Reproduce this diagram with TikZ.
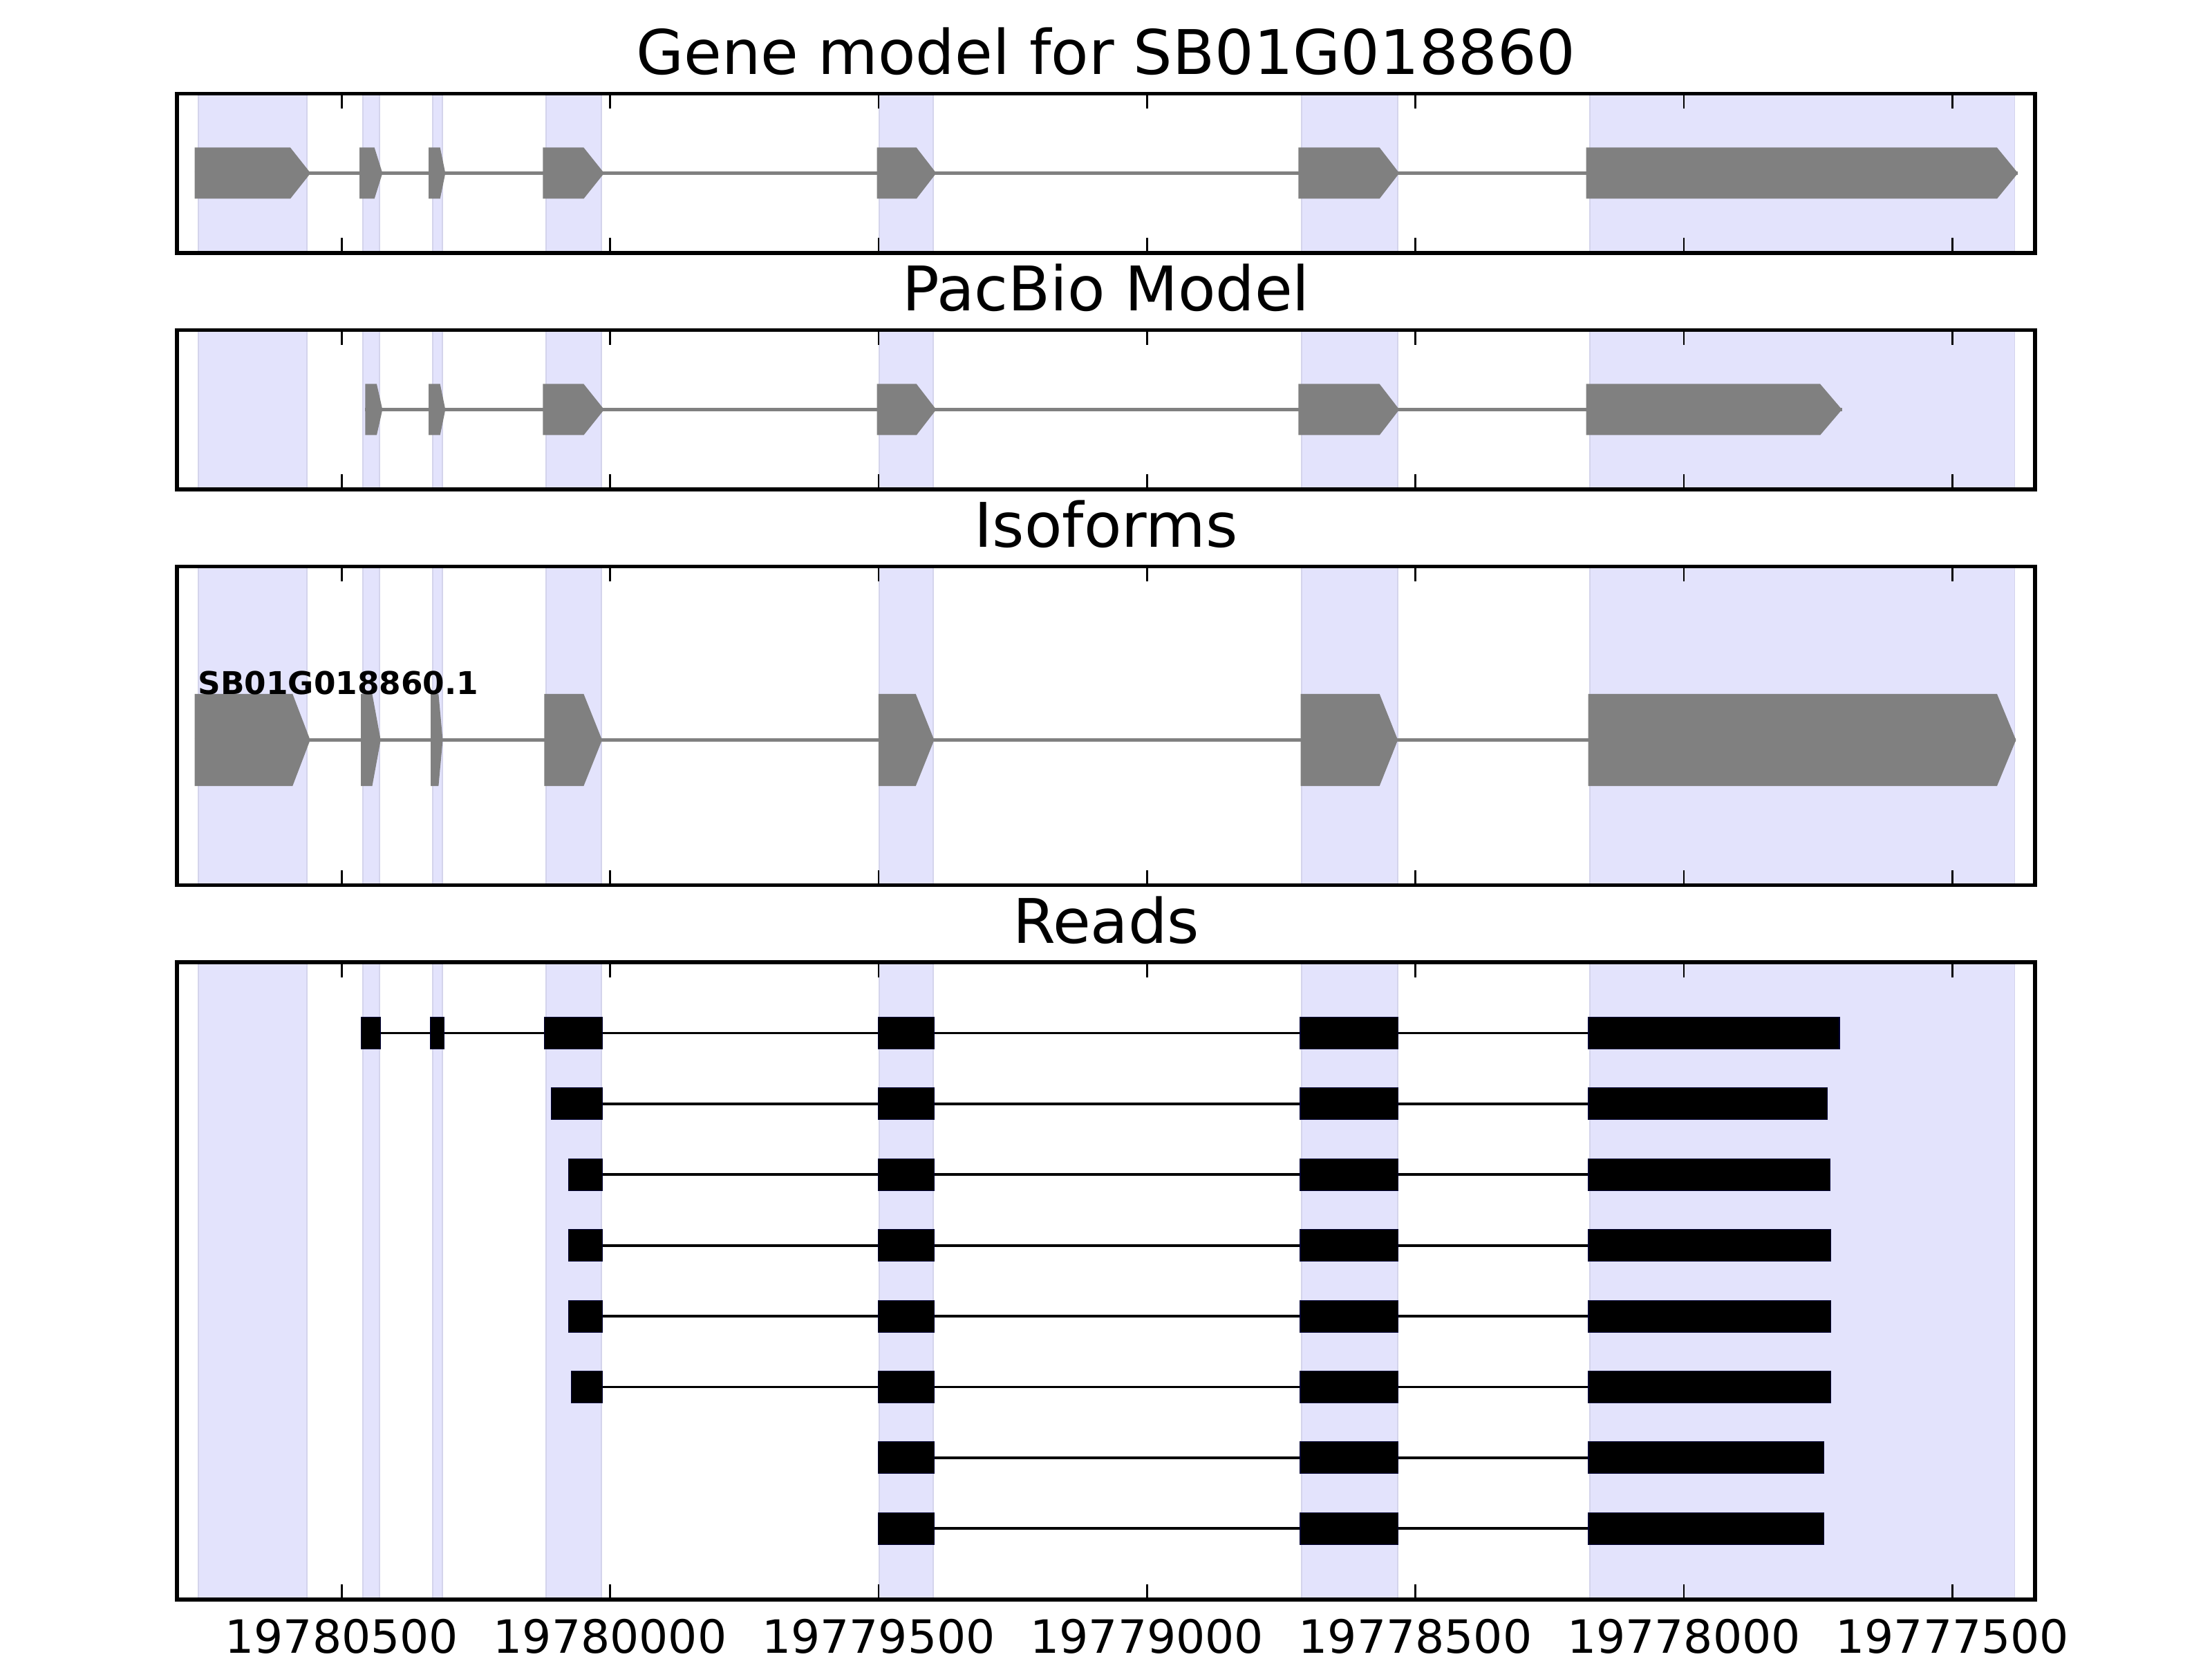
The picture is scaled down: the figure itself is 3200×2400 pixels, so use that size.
\documentclass[tikz,border=0pt]{standalone}
\usepackage{fontspec}
\setmainfont{DejaVu Sans}
\definecolor{bandblue}{RGB}{227,227,252}
\definecolor{bandedge}{RGB}{212,212,236}
\definecolor{exongray}{RGB}{128,128,128}
\tikzset{
  band/.style={fill=bandblue, draw=bandedge, line width=0.3pt},
  exon/.style={fill=exongray},
  intron/.style={draw=exongray, line width=1pt},
  readexon/.style={fill=black, draw=black!80!blue, line width=0.2pt},
  readline/.style={draw=black, line width=0.7pt},
  frame/.style={line width=1pt},
  tickmark/.style={line width=0.5pt},
  paneltitle/.style={font=\fontsize{16.1}{19}\selectfont, anchor=base, inner sep=0pt},
  ticklabel/.style={font=\fontsize{12}{14}\selectfont, anchor=north, inner sep=0pt},
  isolabel/.style={font=\fontsize{8.2}{10}\selectfont\bfseries, anchor=base west, inner sep=0pt}
}

\begin{document}
\begin{tikzpicture}[x=0.0025in, y=-0.0025in]
  \useasboundingbox (0,0) rectangle (3200,2400);

  % exon bands in every panel
  \foreach \top/\bot in {135.5/366, 477.5/708, 819.5/1280.5, 1392/2314}
    \foreach \a/\b in {287.3/444.3, 525/549, 626/640, 790/870, 1272/1350, 1883/2022, 2299.7/2914.3}
      \draw[band] (\a,\top) rectangle (\b,\bot);

  % gene model
  \draw[intron] (281.7,250.5) -- (2919.3,250.5);
  \foreach \a/\b/\c in {281.7/420/449.3, 520/541.7/553.3, 620/636.7/644.3, 785.3/844.4/874,
      1268.7/1325.8/1354.4, 1878.4/1995.7/2024.3, 2294.6/2889/2919.3}
    \fill[exon] (\a,213.5) -- (\b,213.5) -- (\c,250.5) -- (\b,287.5) -- (\a,287.5) -- cycle;

  % pacbio model
  \draw[intron] (528.3,592.5) -- (2664.7,592.5);
  \foreach \a/\b/\c in {528.3/545/553.3, 620/636.7/644.3, 785.3/844.4/874,
      1268.7/1325.8/1354.4, 1878.4/1995.7/2024.3, 2294.6/2633.1/2664.7}
    \fill[exon] (\a,555.5) -- (\b,555.5) -- (\c,592.5) -- (\b,629.5) -- (\a,629.5) -- cycle;

  % isoforms
  \draw[intron] (281.5,1070.5) -- (2916.4,1070.5);
  \foreach \a/\b/\c in {281.5/423.3/448.7, 522.2/538.5/550.7, 623.2/634.4/640.5, 787.4/844.4/871,
      1270.8/1324.8/1351.4, 1881.5/1995.7/2022.2, 2297.6/2889/2916.4}
    \fill[exon] (\a,1004) -- (\b,1004) -- (\c,1070.5) -- (\b,1137) -- (\a,1137) -- cycle;
  \node[isolabel] (iso1) at (285.5,1004.6) {SB01G018860.1};

  % reads
  \foreach \y/\s/\e/\exons in {
      1494.5/522.2/2661/{522.2/550.7, 622.1/642.5, 787.3/871.7, 1270.5/1351.5, 1881/2022.7, 2298/2661},
      1596.9/797.3/2643.7/{797.3/871.7, 1270.5/1351.5, 1881/2022.7, 2298/2643.7},
      1699.3/822.3/2647.7/{822.3/871.7, 1270.5/1351.5, 1881/2022.7, 2298/2647.7},
      1801.7/822.3/2648.7/{822.3/871.7, 1270.5/1351.5, 1881/2022.7, 2298/2648.7},
      1904.1/822.3/2648.7/{822.3/871.7, 1270.5/1351.5, 1881/2022.7, 2298/2648.7},
      2006.5/826.3/2648.7/{826.3/871.7, 1270.5/1351.5, 1881/2022.7, 2298/2648.7},
      2108.9/1270.5/2638.7/{1270.5/1351.5, 1881/2022.7, 2298/2638.7},
      2211.3/1270.5/2638.7/{1270.5/1351.5, 1881/2022.7, 2298/2638.7}} {
    \draw[readline] (\s,\y) -- (\e,\y);
    \foreach \a/\b in \exons
      \draw[readexon] (\a,\y-23) rectangle (\b,\y+23);
  }

  % frames and ticks
  \foreach \top/\bot in {135.5/366, 477.5/708, 819.5/1280.5, 1392/2314} {
    \draw[frame] (256,\top) rectangle (2944.2,\bot);
    \foreach \t in {494.3, 882.6, 1271, 1659.3, 2047.6, 2436, 2824.3} {
      \draw[tickmark] (\t,\top) -- ++(0,22);
      \draw[tickmark] (\t,\bot) -- ++(0,-22);
    }
  }

  \node[paneltitle] (title1) at (1600.1,108) {Gene model for SB01G018860};
  \node[paneltitle] (title2) at (1600.1,450) {PacBio Model};
  \node[paneltitle] (title3) at (1600.1,792) {Isoforms};
  \node[paneltitle] (title4) at (1600.1,1364.5) {Reads};

  \foreach \t/\lab in {494.3/19780500, 882.6/19780000, 1271/19779500, 1659.3/19779000,
      2047.6/19778500, 2436/19778000, 2824.3/19777500}
    \node[ticklabel] (tl\lab) at (\t,2341) {\lab};
\end{tikzpicture}
\end{document}
